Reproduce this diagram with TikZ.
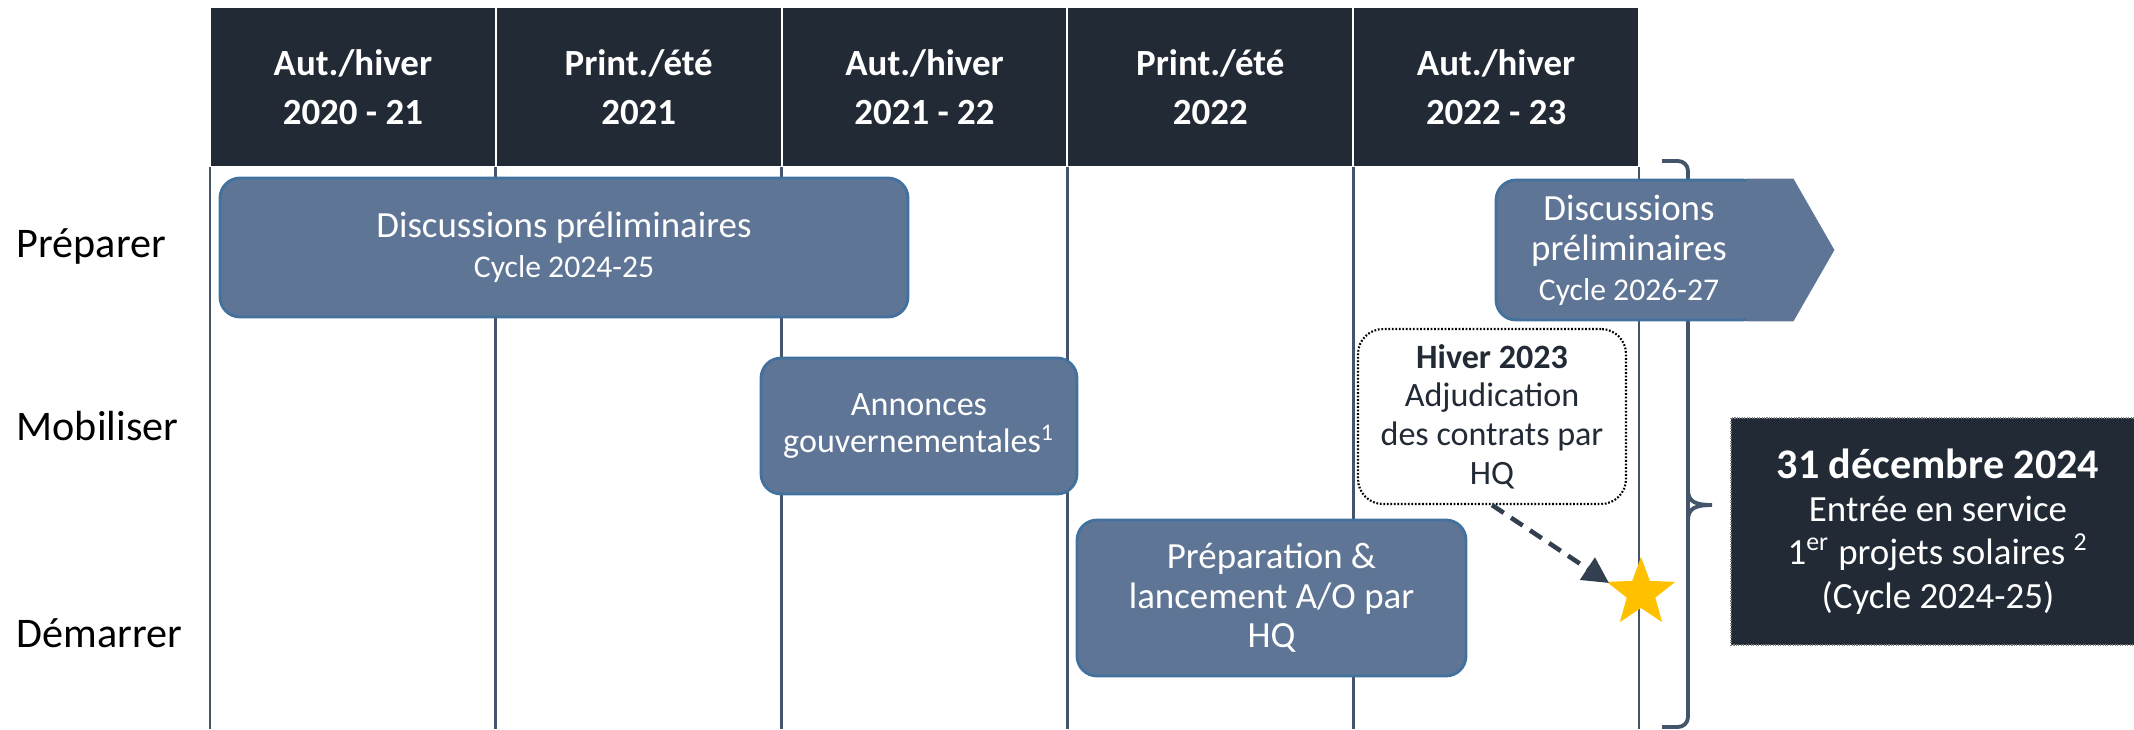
\documentclass[tikz,border=0pt]{standalone}
\usepackage{fontspec}
\setmainfont{Carlito}
\usetikzlibrary {positioning}
\usetikzlibrary {shapes.geometric}
\usetikzlibrary {arrows.meta}

\definecolor{headDark}{HTML}{222A35}
\definecolor{phaseFill}{HTML}{5F7596}
\definecolor{phaseLine}{HTML}{41719C}
\definecolor{gridLine}{HTML}{44546A}
\definecolor{arrowDark}{HTML}{323F4F}
\definecolor{starGold}{HTML}{FFC000}

\tikzset{
boxHead/.style={rectangle,minimum height=16mm,minimum width=28.58mm,fill=headDark,draw=white,line width=0.6pt,outer sep=0,inner sep=0,text=white,align=center,font=\fontsize{10.5}{13.9}\selectfont\bfseries}
}
\tikzset{
boxPhase/.style={rectangle,rounded corners=2mm,fill=phaseFill,draw=phaseLine,line width=0.8pt,inner sep=0,text=white,align=center,font=\fontsize{10.5}{11.4}\selectfont}
}
\tikzset{
boxNote/.style={rectangle,rounded corners=2.5mm,fill=white,draw=black,dash pattern=on 0.5pt off 0.5pt,line width=0.6pt,inner sep=0,text=headDark,align=center,font=\fontsize{9.7}{11}\selectfont}
}
\tikzset{
boxDate/.style={rectangle,fill=headDark,draw=gray,dash pattern=on 0.3pt off 0.4pt,line width=0.4pt,inner sep=0,text=white,align=center,font=\fontsize{10.5}{12.3}\selectfont}
}
\tikzset{
rowLabel/.style={anchor=west,inner sep=0,font=\fontsize{12}{14}\selectfont}
}
\tikzset{
gridRule/.style={draw=gridLine,line width=0.75pt}
}

\begin{document}
\begin{tikzpicture}[x=0.1mm,y=-0.1mm]
\useasboundingbox (0,0) rectangle (2134,729);

% header row
\node[boxHead] (H1) at (352.9,87) {Aut./hiver\\2020 - 21};
\node[boxHead,right=0 of H1] (H2) {Print./été\\2021};
\node[boxHead,right=0 of H2] (H3) {Aut./hiver\\2021 - 22};
\node[boxHead,right=0 of H3] (H4) {Print./été\\2022};
\node[boxHead,right=0 of H4] (H5) {Aut./hiver\\2022 - 23};

\foreach \i in {1,2,...,5}
{
\draw[gridRule] (H\i.south west) -- ++(0,562);
}
\draw[gridRule] (H5.south east) -- ++(0,562);

% row titles
\node[rowLabel] (R1) at (16,246) {Préparer};
\node[rowLabel] (R2) at (16,426) {Mobiliser};
\node[rowLabel] (R3) at (16,633) {Démarrer};

% brace
\draw[gridLine,line width=1.1pt,rounded corners=1mm] (1662,161) -- (1688,161) -- (1688,727) -- (1662,727);
\draw[gridLine,line width=1.1pt] (1688,490) .. controls (1688,502) and (1696,505) .. (1712,505) .. controls (1696,505) and (1688,508) .. (1688,520);

%------------------------------------------------------------------------------------------------------------%
\node[boxPhase,minimum width=68.8mm,minimum height=13.9mm] (P1) at (564,247.5) {Discussions préliminaires\\{\fontsize{9}{11}\selectfont Cycle 2024-25}};
\node[boxPhase,minimum width=26.6mm,minimum height=14mm] (P2) at (1629,250) {Discussions\\préliminaires\\{\fontsize{9}{11}\selectfont Cycle 2026-27}};
\fill[phaseFill] ([xshift=-1.7mm]P2.north east) -- ++(4.7mm,0) -- ([xshift=7.1mm]P2.east) -- ([xshift=3mm]P2.south east) -- ([xshift=-1.7mm]P2.south east) -- cycle;
%------------------------------------------------------------------------------------------------------------%
\node[boxPhase,minimum width=31.6mm,minimum height=13.6mm,font=\fontsize{9.7}{10.8}\selectfont] (M1) at (919,426) {Annonces\\gouvernementales\textsuperscript{1}};
\node[boxNote,minimum width=26.8mm,minimum height=17.5mm] (N1) at (1492,416.5) {\textbf{Hiver 2023}\\Adjudication\\des contrats par\\HQ};
%------------------------------------------------------------------------------------------------------------%
\node[boxPhase,minimum width=38.9mm,minimum height=15.6mm,font=\fontsize{10.5}{11.2}\selectfont] (D1) at (1271.5,598) {Préparation \&\\lancement A/O par\\HQ};
\node[star,star points=5,star point ratio=2.4,fill=starGold,inner sep=0,minimum size=7.2mm] (S) at (1641,593) {};
\draw[arrowDark,line width=1.3pt,dash pattern=on 4pt off 2.5pt,-{Triangle[length=2.6mm,width=2.6mm]}] (N1.south) -- ([xshift=-3.2mm,yshift=1mm]S.center);

\node[boxDate,minimum width=41.4mm,minimum height=22.7mm] (E1) at (1938,531.5) {{\fontsize{12}{14}\selectfont\bfseries 31 décembre 2024}\\Entrée en service\\1\textsuperscript{er} projets solaires \textsuperscript{2}\\(Cycle 2024-25)};

\end{tikzpicture}
\end{document}
